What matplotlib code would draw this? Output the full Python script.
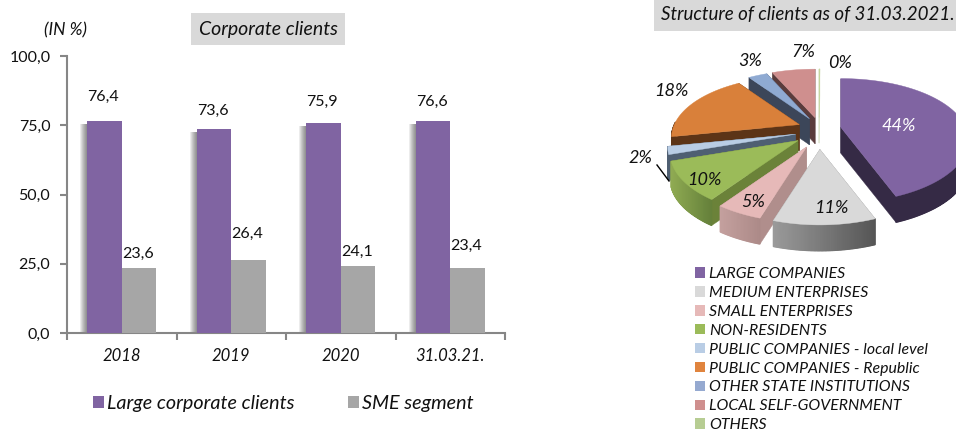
"""Corporate clients bars and client structure 3D pie."""

import matplotlib
matplotlib.use("Agg")

import numpy as np
import matplotlib.pyplot as plt
from matplotlib.patches import Patch, Polygon, Rectangle

plt.rcParams["font.family"] = ["Lato", "DejaVu Sans"]

# bar chart data
years = ["2018", "2019", "2020", "31.03.21."]
large_clients = [76.4, 73.6, 75.9, 76.6]
sme_segment = [23.6, 26.4, 24.1, 23.4]
y_ticks = [0, 25, 50, 75, 100]

# pie chart data
pie_names = [
    "LARGE COMPANIES",
    "MEDIUM ENTERPRISES",
    "SMALL ENTERPRISES",
    "NON-RESIDENTS",
    "PUBLIC COMPANIES - local level",
    "PUBLIC COMPANIES - Republic",
    "OTHER STATE INSTITUTIONS",
    "LOCAL SELF-GOVERNMENT",
    "OTHERS",
]
pie_shares = [44, 11, 5, 10, 2, 18, 3, 7, 0]

top_colors = ["#8064A2", "#D9D9D9", "#E6B9B8", "#9BBB59", "#B9CDE5",
              "#D9803A", "#8FAAD2", "#CF8F8E", "#C3D69B"]
legend_colors = ["#8064A2", "#D9D9D9", "#E6B9B8", "#9BBB59", "#B9CDE5",
                 "#E0843E", "#95A9D0", "#CF8F8E", "#B7CD93"]
cut_colors = ["#352A45", "#8A8A8A", "#B08E8C", "#6B8239", "#4F5F72",
              "#5C3417", "#3C4659", "#5A3C3C", "#D5DFC0"]
# left and right colour of the outer wall
rim_colors = [("#352A45", "#352A45"), ("#9A9A9A", "#555555"), ("#C4A09E", "#AC8A88"),
              ("#8FAA52", "#64803A"), ("#4F5F72", "#4F5F72"), ("#5C3417", "#5C3417"),
              ("#3C4659", "#3C4659"), ("#5A3C3C", "#5A3C3C"), ("#D5DFC0", "#D5DFC0")]

# 3D look of the pie, in pixels
CX, CY = 819, 130
RX, RY = 125, 62
EX, EY = 23, 16
PERSP = 0.217
DEPTH = 26


def project(theta):
    """Rim offset and perspective scale for a clockwise angle from the top."""
    th = np.radians(theta)
    s = 1 - PERSP * np.cos(th)
    return RX * np.sin(th) * s, -RY * np.cos(th) * s


def mix(c0, c1, t):
    rgb0 = np.array(matplotlib.colors.to_rgb(c0))
    rgb1 = np.array(matplotlib.colors.to_rgb(c1))
    return tuple(rgb0 * (1 - t) + rgb1 * t)


def draw_slice(ax, start, stop, top, cut, rim):
    mid = np.radians((start + stop) / 2)
    s = 1 - PERSP * np.cos(mid)
    ax_x = CX + EX * np.sin(mid) * s
    ax_y = CY - EY * np.cos(mid) * s

    angles = np.linspace(start, stop, max(2, int(stop - start) * 2))
    dx, dy = project(angles)
    px, py = ax_x + dx, ax_y + dy
    apex = (ax_x, ax_y)

    # cut faces
    for x_end, y_end in ((px[0], py[0]), (px[-1], py[-1])):
        face = [apex, (x_end, y_end), (x_end, y_end + DEPTH), (apex[0], apex[1] + DEPTH)]
        ax.add_patch(Polygon(face, closed=True, fc=cut, ec=cut, lw=0.3))

    # outer wall, only the part facing us
    idx = np.where(np.cos(np.radians(angles)) < 0.05)[0]
    if len(idx) > 1:
        x_lo, x_hi = px[idx].min(), px[idx].max()
        for i, j in zip(idx[:-1], idx[1:]):
            t = ((px[i] + px[j]) / 2 - x_lo) / max(x_hi - x_lo, 1)
            c = mix(rim[0], rim[1], t)
            quad = [(px[i], py[i]), (px[j], py[j]), (px[j], py[j] + DEPTH), (px[i], py[i] + DEPTH)]
            ax.add_patch(Polygon(quad, closed=True, fc=c, ec=c, lw=0.8))

    outline = [apex] + list(zip(px, py))
    ax.add_patch(Polygon(outline, closed=True, fc=top, ec=top, lw=0.3))


fig = plt.figure(figsize=(9.56, 4.32), dpi=100)

# bars
ax = fig.add_axes([67 / 956, 1 - 333 / 432, 438 / 956, 277 / 432])
ax.patch.set_alpha(0)
x = np.arange(len(years))
width = 0.315

# soft shadow, one pixel per layer
for k in range(1, 8):
    ax.bar(x - width / 2 - k / 109.5, np.array(large_clients) - 1.0, width, color="#000000", alpha=0.075, zorder=2)
ax.bar(x - width / 2, large_clients, width, color="#8064A2", zorder=3)
ax.bar(x + width / 2, sme_segment, width, color="#A6A6A6", zorder=3)

large_offsets = [24, 18, 21, 19]
sme_offsets = [14, 26, 14, 22]
for i in range(len(years)):
    ax.annotate(f"{large_clients[i]:.1f}".replace(".", ","), (x[i] - width / 2, large_clients[i]),
                xytext=(-1, large_offsets[i] * 0.72), textcoords="offset points",
                ha="center", va="center", fontsize=11.5, color="#111111")
    ax.annotate(f"{sme_segment[i]:.1f}".replace(".", ","), (x[i] + width / 2, sme_segment[i]),
                xytext=(-1, sme_offsets[i] * 0.72), textcoords="offset points",
                ha="center", va="center", fontsize=11.5, color="#111111")

ax.set_xlim(-0.5, len(years) - 0.5)
ax.set_ylim(0, 100)
ax.set_yticks(y_ticks)
ax.set_yticklabels([f"{v:.1f}".replace(".", ",") for v in y_ticks], fontsize=11.5, color="#111111")
ax.set_xticks(np.arange(len(years) + 1) - 0.5)
ax.set_xticklabels([])
ax.set_xticks(x, minor=True)
ax.set_xticklabels(years, minor=True, fontsize=12, style="italic", color="#111111")
ax.tick_params(axis="x", which="major", length=5, width=1.5, color="#868686")
ax.tick_params(axis="x", which="minor", length=0, pad=11)
ax.tick_params(axis="y", length=5, width=1.5, color="#868686", pad=7)
ax.spines["top"].set_visible(False)
ax.spines["right"].set_visible(False)
for side in ("left", "bottom"):
    ax.spines[side].set_color("#868686")
    ax.spines[side].set_linewidth(1.5)

# everything else lives on a full figure overlay in pixel units
over = fig.add_axes([0, 0, 1, 1], zorder=5)
over.patch.set_alpha(0)
over.set_xlim(0, 956)
over.set_ylim(432, 0)
over.axis("off")

over.add_patch(Rectangle((191, 13), 154, 32, fc="#D9D9D9", ec="none"))
over.text(268, 30, "Corporate clients", ha="center", va="center", fontsize=14, style="italic", color="#111111")
over.text(66, 30, "(IN %)", ha="center", va="center", fontsize=12.5, style="italic", color="#111111")
over.add_patch(Rectangle((654, 0), 302, 31, fc="#D9D9D9", ec="none"))
over.text(661, 15, "Structure of clients as of 31.03.2021.", ha="left", va="center",
          fontsize=13.5, style="italic", color="#111111", clip_on=True)

# pie, drawn back to front
stops = 3.6 * np.cumsum(pie_shares)
starts = np.concatenate(([0], stops[:-1]))
stops = np.maximum(stops, starts + 0.5)
order = np.argsort([-np.cos(np.radians((a + b) / 2)) for a, b in zip(starts, stops)])
for i in order:
    draw_slice(over, starts[i], stops[i], top_colors[i], cut_colors[i], rim_colors[i])

pie_labels = [
    ("44%", 899, 126, "white"), ("11%", 831, 208, "#111111"), ("5%", 753, 202, "#111111"),
    ("10%", 704, 180, "#111111"), ("2%", 640, 158, "#111111"), ("18%", 671, 91, "#111111"),
    ("3%", 750, 61, "#111111"), ("7%", 803, 52, "#111111"), ("0%", 840, 63, "#111111"),
]
for text, tx, ty, col in pie_labels:
    over.text(tx, ty, text, ha="center", va="center", fontsize=13, style="italic", color=col)
over.plot([657, 669], [165, 181], color="black", lw=1)

# legends
pie_handles = [Patch(fc=c, ec="none") for c in legend_colors]
leg = over.legend(pie_handles, pie_names, loc="upper left", bbox_to_anchor=(695 / 956, 1 - 267 / 432),
                  frameon=False, labelspacing=0.31, handlelength=0.65, handleheight=0.65,
                  handletextpad=0.25, borderpad=0, borderaxespad=0, prop={"style": "italic", "size": 11.4})
for t in leg.get_texts():
    t.set_color("#111111")

bar_handles = [Patch(fc="#8064A2", ec="none"), Patch(fc="#A6A6A6", ec="none")]
leg2 = fig.legend(bar_handles, ["Large corporate clients", "SME segment"], loc="center left",
                  bbox_to_anchor=(93 / 956, 1 - 403 / 432), ncol=2, frameon=False, columnspacing=2.7,
                  handlelength=0.56, handleheight=0.56, handletextpad=0.15, borderpad=0, borderaxespad=0,
                  prop={"style": "italic", "size": 14.2})
for t in leg2.get_texts():
    t.set_color("#111111")

fig.savefig("out.png", dpi=100)
plt.close(fig)
